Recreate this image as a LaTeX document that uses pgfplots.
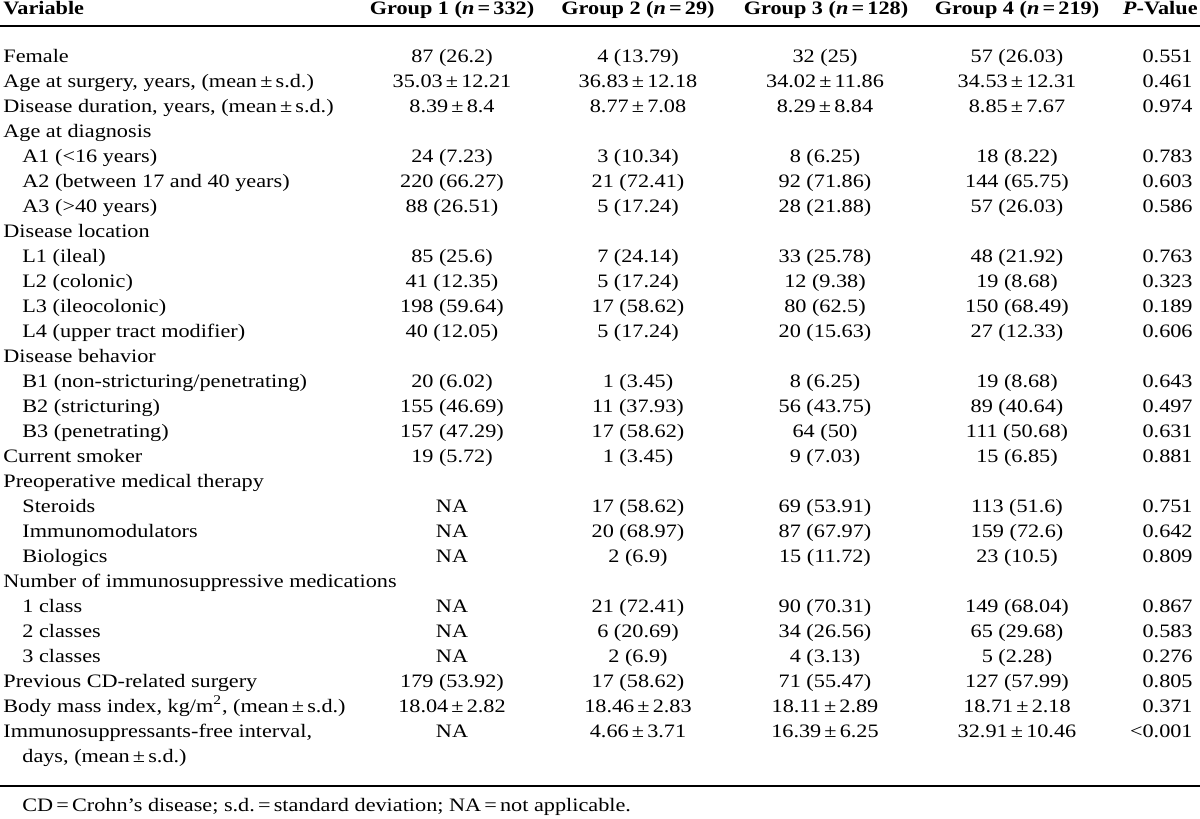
\documentclass[border=0pt]{standalone}
\usepackage{fontspec}
\setmainfont{Liberation Serif}[FakeStretch=1.17]
\usepackage{pgfplots}
\pgfplotsset{compat=1.18}
\newcommand\PM{\,±\,}
\begin{document}
\begin{tikzpicture}[
  t/.style={inner sep=0pt, font=\fontsize{9.5}{11}\selectfont},
  L/.style={t, anchor=base west},
  C/.style={t, anchor=base},
  E/.style={t, anchor=base east}]
\begin{axis}[at={(0,0)}, anchor=south west, scale only axis, width=600pt, height=409.5pt,
  xmin=0, xmax=1200, ymin=0, ymax=819, y dir=reverse, hide axis, clip=false]
% rules
\addplot[black, line width=1pt] coordinates {(0,25.5) (1200,25.5)};
\addplot[black, line width=1pt] coordinates {(0,786) (1200,786)};
% header
\node[L] at (axis cs:3,15) {\textbf{Variable}};
\node[C] at (axis cs:452,15) {\textbf{Group 1 (\textit{n}\,=\,332)}};
\node[C] at (axis cs:638,15) {\textbf{Group 2 (\textit{n}\,=\,29)}};
\node[C] at (axis cs:826,15) {\textbf{Group 3 (\textit{n}\,=\,128)}};
\node[C] at (axis cs:1017,15) {\textbf{Group 4 (\textit{n}\,=\,219)}};
\node[E] at (axis cs:1198,15) {\textbf{\textit{P}-Value}};
% rows
\newcommand\Row[8]{%
  \node[L] at (axis cs:#2,#1) {#3};
  \node[C] at (axis cs:452,#1) {#4};
  \node[C] at (axis cs:638,#1) {#5};
  \node[C] at (axis cs:825,#1) {#6};
  \node[C] at (axis cs:1017,#1) {#7};
  \node[E] at (axis cs:1193,#1) {#8};}
\Row{62}{3}{Female}{87 (26.2)}{4 (13.79)}{32 (25)}{57 (26.03)}{0.551}
\Row{87}{3}{Age at surgery, years, (mean\PM s.d.)}{35.03\PM 12.21}{36.83\PM 12.18}{34.02\PM 11.86}{34.53\PM 12.31}{0.461}
\Row{112}{3}{Disease duration, years, (mean\PM s.d.)}{8.39\PM 8.4}{8.77\PM 7.08}{8.29\PM 8.84}{8.85\PM 7.67}{0.974}
\node[L] at (axis cs:3,137) {Age at diagnosis};
\Row{162}{22}{A1 (<16 years)}{24 (7.23)}{3 (10.34)}{8 (6.25)}{18 (8.22)}{0.783}
\Row{187}{22}{A2 (between 17 and 40 years)}{220 (66.27)}{21 (72.41)}{92 (71.86)}{144 (65.75)}{0.603}
\Row{212}{22}{A3 (>40 years)}{88 (26.51)}{5 (17.24)}{28 (21.88)}{57 (26.03)}{0.586}
\node[L] at (axis cs:3,237) {Disease location};
\Row{262}{22}{L1 (ileal)}{85 (25.6)}{7 (24.14)}{33 (25.78)}{48 (21.92)}{0.763}
\Row{287}{22}{L2 (colonic)}{41 (12.35)}{5 (17.24)}{12 (9.38)}{19 (8.68)}{0.323}
\Row{312}{22}{L3 (ileocolonic)}{198 (59.64)}{17 (58.62)}{80 (62.5)}{150 (68.49)}{0.189}
\Row{337}{22}{L4 (upper tract modifier)}{40 (12.05)}{5 (17.24)}{20 (15.63)}{27 (12.33)}{0.606}
\node[L] at (axis cs:3,362) {Disease behavior};
\Row{387}{22}{B1 (non-stricturing/penetrating)}{20 (6.02)}{1 (3.45)}{8 (6.25)}{19 (8.68)}{0.643}
\Row{412}{22}{B2 (stricturing)}{155 (46.69)}{11 (37.93)}{56 (43.75)}{89 (40.64)}{0.497}
\Row{437}{22}{B3 (penetrating)}{157 (47.29)}{17 (58.62)}{64 (50)}{111 (50.68)}{0.631}
\Row{462}{3}{Current smoker}{19 (5.72)}{1 (3.45)}{9 (7.03)}{15 (6.85)}{0.881}
\node[L] at (axis cs:3,487) {Preoperative medical therapy};
\Row{512}{22}{Steroids}{NA}{17 (58.62)}{69 (53.91)}{113 (51.6)}{0.751}
\Row{537}{22}{Immunomodulators}{NA}{20 (68.97)}{87 (67.97)}{159 (72.6)}{0.642}
\Row{562}{22}{Biologics}{NA}{2 (6.9)}{15 (11.72)}{23 (10.5)}{0.809}
\node[L] at (axis cs:3,587) {Number of immunosuppressive medications};
\Row{612}{22}{1 class}{NA}{21 (72.41)}{90 (70.31)}{149 (68.04)}{0.867}
\Row{637}{22}{2 classes}{NA}{6 (20.69)}{34 (26.56)}{65 (29.68)}{0.583}
\Row{662}{22}{3 classes}{NA}{2 (6.9)}{4 (3.13)}{5 (2.28)}{0.276}
\Row{687}{3}{Previous CD-related surgery}{179 (53.92)}{17 (58.62)}{71 (55.47)}{127 (57.99)}{0.805}
\Row{712}{3}{Body mass index, kg/m\textsuperscript{2}, (mean\PM s.d.)}{18.04\PM 2.82}{18.46\PM 2.83}{18.11\PM 2.89}{18.71\PM 2.18}{0.371}
\Row{737}{3}{Immunosuppressants-free interval,}{NA}{4.66\PM 3.71}{16.39\PM 6.25}{32.91\PM 10.46}{<0.001}
\node[L] at (axis cs:22,762) {days, (mean\PM s.d.)};
% footnote
\node[L] at (axis cs:22,811) {CD\,=\,Crohn’s disease; s.d.\,=\,standard deviation; NA\,=\,not applicable.};
\end{axis}
\pgfresetboundingbox
\path (0,0) rectangle (600pt,409.5pt);
\end{tikzpicture}
\end{document}
